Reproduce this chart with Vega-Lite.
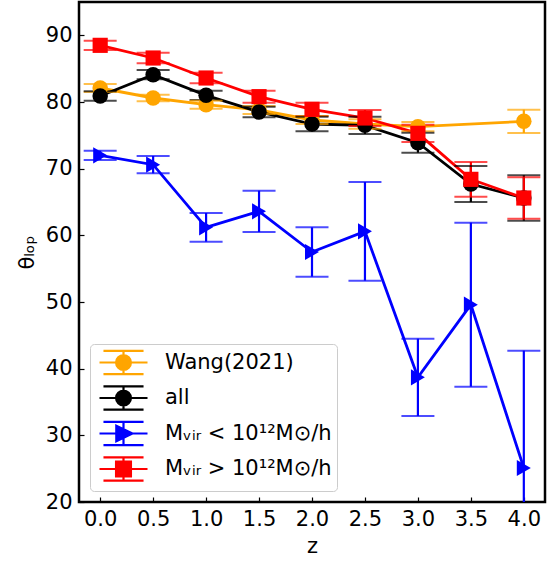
{
  "$schema": "https://vega.github.io/schema/vega-lite/v6.json",
  "width": 466,
  "height": 500,
  "autosize": "none",
  "padding": {"left": 79, "top": 2, "right": 13, "bottom": 59},
  "config": {
    "font": "DejaVu Sans",
    "view": {"stroke": "black", "strokeWidth": 2.5},
    "axis": {
      "grid": false, "domain": false, "tickColor": "black", "tickSize": -5, "tickWidth": 1.2,
      "labelColor": "black", "labelFontSize": 21, "labelFont": "DejaVu Sans",
      "titleColor": "black", "titleFontSize": 21, "titleFont": "DejaVu Sans", "titleFontWeight": "normal",
      "labelFlush": false, "labelOverlap": false
    }
  },
  "data": {
    "values": [
      {"series": "Wang(2021)", "k": 0, "z": 0.0, "v": 82.1, "lo": 81.5, "hi": 82.7},
      {"series": "Wang(2021)", "k": 0, "z": 0.5, "v": 80.6, "lo": 80.1, "hi": 81.1},
      {"series": "Wang(2021)", "k": 0, "z": 1.0, "v": 79.6, "lo": 79.0, "hi": 80.2},
      {"series": "Wang(2021)", "k": 0, "z": 1.5, "v": 78.8, "lo": 78.2, "hi": 79.4},
      {"series": "Wang(2021)", "k": 0, "z": 2.0, "v": 77.3, "lo": 76.7, "hi": 77.9},
      {"series": "Wang(2021)", "k": 0, "z": 2.5, "v": 76.7, "lo": 76.0, "hi": 77.4},
      {"series": "Wang(2021)", "k": 0, "z": 3.0, "v": 76.3, "lo": 75.6, "hi": 77.0},
      {"series": "Wang(2021)", "k": 0, "z": 4.0, "v": 77.1, "lo": 75.35, "hi": 78.85},
      {"series": "all", "k": 1, "z": 0.0, "v": 80.9, "lo": 80.2, "hi": 81.6},
      {"series": "all", "k": 1, "z": 0.5, "v": 84.1, "lo": 83.4, "hi": 84.8},
      {"series": "all", "k": 1, "z": 1.0, "v": 81.0, "lo": 80.3, "hi": 81.7},
      {"series": "all", "k": 1, "z": 1.5, "v": 78.5, "lo": 77.7, "hi": 79.3},
      {"series": "all", "k": 1, "z": 2.0, "v": 76.7, "lo": 75.6, "hi": 77.8},
      {"series": "all", "k": 1, "z": 2.5, "v": 76.5, "lo": 75.2, "hi": 77.8},
      {"series": "all", "k": 1, "z": 3.0, "v": 73.9, "lo": 72.4, "hi": 75.4},
      {"series": "all", "k": 1, "z": 3.5, "v": 67.7, "lo": 65.0, "hi": 70.4},
      {"series": "all", "k": 1, "z": 4.0, "v": 65.6, "lo": 62.2, "hi": 69.0},
      {"series": "Mᵥᵢᵣ < 10¹²M⊙/h", "k": 2, "z": 0.0, "v": 72.0, "lo": 71.3, "hi": 72.7},
      {"series": "Mᵥᵢᵣ < 10¹²M⊙/h", "k": 2, "z": 0.5, "v": 70.6, "lo": 69.3, "hi": 71.9},
      {"series": "Mᵥᵢᵣ < 10¹²M⊙/h", "k": 2, "z": 1.0, "v": 61.2, "lo": 59.05, "hi": 63.35},
      {"series": "Mᵥᵢᵣ < 10¹²M⊙/h", "k": 2, "z": 1.5, "v": 63.6, "lo": 60.5, "hi": 66.7},
      {"series": "Mᵥᵢᵣ < 10¹²M⊙/h", "k": 2, "z": 2.0, "v": 57.5, "lo": 53.8, "hi": 61.2},
      {"series": "Mᵥᵢᵣ < 10¹²M⊙/h", "k": 2, "z": 2.5, "v": 60.6, "lo": 53.2, "hi": 68.0},
      {"series": "Mᵥᵢᵣ < 10¹²M⊙/h", "k": 2, "z": 3.0, "v": 38.7, "lo": 32.9, "hi": 44.5},
      {"series": "Mᵥᵢᵣ < 10¹²M⊙/h", "k": 2, "z": 3.5, "v": 49.6, "lo": 37.3, "hi": 61.9},
      {"series": "Mᵥᵢᵣ < 10¹²M⊙/h", "k": 2, "z": 4.0, "v": 25.1, "lo": 7.5, "hi": 42.7},
      {"series": "Mᵥᵢᵣ > 10¹²M⊙/h", "k": 3, "z": 0.0, "v": 88.5, "lo": 87.8, "hi": 89.2},
      {"series": "Mᵥᵢᵣ > 10¹²M⊙/h", "k": 3, "z": 0.5, "v": 86.6, "lo": 85.8, "hi": 87.4},
      {"series": "Mᵥᵢᵣ > 10¹²M⊙/h", "k": 3, "z": 1.0, "v": 83.6, "lo": 82.8, "hi": 84.4},
      {"series": "Mᵥᵢᵣ > 10¹²M⊙/h", "k": 3, "z": 1.5, "v": 80.8, "lo": 79.9, "hi": 81.7},
      {"series": "Mᵥᵢᵣ > 10¹²M⊙/h", "k": 3, "z": 2.0, "v": 78.9, "lo": 77.9, "hi": 79.9},
      {"series": "Mᵥᵢᵣ > 10¹²M⊙/h", "k": 3, "z": 2.5, "v": 77.6, "lo": 76.4, "hi": 78.8},
      {"series": "Mᵥᵢᵣ > 10¹²M⊙/h", "k": 3, "z": 3.0, "v": 75.3, "lo": 74.0, "hi": 76.6},
      {"series": "Mᵥᵢᵣ > 10¹²M⊙/h", "k": 3, "z": 3.5, "v": 68.4, "lo": 65.8, "hi": 71.0},
      {"series": "Mᵥᵢᵣ > 10¹²M⊙/h", "k": 3, "z": 4.0, "v": 65.6, "lo": 62.5, "hi": 68.7}
    ]
  },
  "encoding": {
    "x": {"field": "z", "type": "quantitative",
      "scale": {"domain": [-0.2, 4.2], "nice": false, "zero": false},
      "axis": {"values": [0, 0.5, 1, 1.5, 2, 2.5, 3, 3.5, 4], "format": ".1f", "title": "z", "labelPadding": 11, "titlePadding": 6}},
    "y": {"field": "v", "type": "quantitative",
      "scale": {"domain": [20, 95], "nice": false, "zero": false},
      "axis": {"values": [20, 30, 40, 50, 60, 70, 80, 90], "title": "θₗₒₚ", "labelPadding": 12, "titlePadding": 8}}
  },
  "layer": [
    {"mark": {"type": "point", "filled": true, "opacity": 1, "size": 1},
      "encoding": {
        "color": {"field": "series", "type": "nominal",
          "scale": {"domain": ["Wang(2021)", "all", "Mᵥᵢᵣ < 10¹²M⊙/h", "Mᵥᵢᵣ > 10¹²M⊙/h"], "range": ["#FFA500", "#000000", "#0000FF", "#FF0000"]},
          "legend": {
            "title": null, "orient": "bottom-left", "offset": 11, "padding": 5, "rowPadding": 2.5,
            "symbolSize": 576, "symbolStrokeWidth": 2.2, "symbolOffset": 15,
            "labelFontSize": 21, "labelFont": "DejaVu Sans", "labelColor": "black", "labelOffset": 28, "labelLimit": 500,
            "strokeColor": "#cccccc", "fillColor": "rgba(255,255,255,0.8)", "cornerRadius": 4,
            "encode": {"symbols": {"update": {"stroke": {"scale": "color", "field": "value"}, "fill": {"scale": "color", "field": "value"}, "opacity": {"value": 1}, "strokeWidth": {"value": 2.2}}}}
          }},
        "shape": {"field": "series", "type": "nominal",
          "scale": {"domain": ["Wang(2021)", "all", "Mᵥᵢᵣ < 10¹²M⊙/h", "Mᵥᵢᵣ > 10¹²M⊙/h"],
            "range": [
              "M-2,0L2,0M0,-0.97L0,0.97M-1.67,-0.97L1.67,-0.97M-1.67,0.97L1.67,0.97M0.62,0A0.62,0.62 0 1 1 -0.62,0A0.62,0.62 0 1 1 0.62,0Z",
              "M-2,0L2,0M0,-0.97L0,0.97M-1.67,-0.97L1.67,-0.97M-1.67,0.97L1.67,0.97M0.62,0A0.62,0.62 0 1 1 -0.62,0A0.62,0.62 0 1 1 0.62,0Z",
              "M-2,0L2,0M0,-0.97L0,0.97M-1.67,-0.97L1.67,-0.97M-1.67,0.97L1.67,0.97M-0.6,-0.65L0.75,0L-0.6,0.65Z",
              "M-2,0L2,0M0,-0.97L0,0.97M-1.67,-0.97L1.67,-0.97M-1.67,0.97L1.67,0.97M-0.62,-0.62L0.62,-0.62L0.62,0.62L-0.62,0.62Z"
            ]}}
      }},
    {"mark": {"type": "line", "strokeWidth": 2.8},
      "encoding": {"order": {"field": "z"}, "color": {"field": "series", "type": "nominal", "legend": null}}},
    {"mark": {"type": "rule", "strokeWidth": 2.2, "clip": true},
      "encoding": {"y": {"field": "lo", "type": "quantitative"}, "y2": {"field": "hi"}, "color": {"field": "series", "type": "nominal", "legend": null}}},
    {"mark": {"type": "tick", "orient": "horizontal", "size": 33, "thickness": 2, "clip": true},
      "encoding": {"y": {"field": "lo", "type": "quantitative"}, "color": {"field": "series", "type": "nominal", "legend": null}}},
    {"mark": {"type": "tick", "orient": "horizontal", "size": 33, "thickness": 2, "clip": true},
      "encoding": {"y": {"field": "hi", "type": "quantitative"}, "color": {"field": "series", "type": "nominal", "legend": null}}},
    {"transform": [{"filter": "datum.k <= 1"}],
      "mark": {"type": "point", "shape": "circle", "filled": true, "opacity": 1, "size": 240},
      "encoding": {"order": {"field": "k"}, "color": {"field": "series", "type": "nominal", "legend": null}}},
    {"transform": [{"filter": "datum.k == 2"}],
      "mark": {"type": "point", "shape": "triangle-right", "filled": true, "opacity": 1, "size": 260},
      "encoding": {"color": {"field": "series", "type": "nominal", "legend": null}}},
    {"transform": [{"filter": "datum.k == 3"}],
      "mark": {"type": "point", "shape": "square", "filled": true, "opacity": 1, "size": 230},
      "encoding": {"color": {"field": "series", "type": "nominal", "legend": null}}}
  ]
}
